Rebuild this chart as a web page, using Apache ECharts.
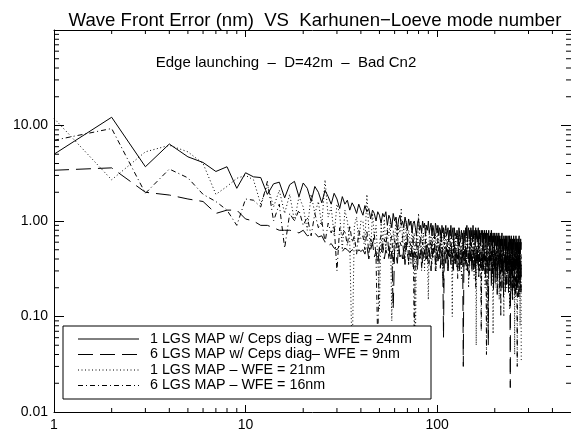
<!DOCTYPE html>
<html>
<head>
<meta charset="utf-8">
<script src="https://cdn.jsdelivr.net/npm/echarts@6/dist/echarts.min.js"></script>
<style>html,body{margin:0;padding:0;background:#fff}#c{width:571px;height:437px}</style>
</head>
<body>
<div id="c"></div>
<script>
// ---- DATA ----
const seriesNames = [
  '1 LGS MAP w/ Ceps diag – WFE = 24nm',
  '6 LGS MAP w/ Ceps diag– WFE = 9nm',
  '1 LGS MAP – WFE = 21nm',
  '6 LGS MAP – WFE = 16nm'
];
const xTickLabels = ['1', '10', '100'];
const yTickLabels = ['0.01', '0.10', '1.00', '10.00'];

// solid: 1 LGS MAP w/ Ceps diag
const wfeSolid = [
5.0,12.2,3.7,6.4,4.7,4.1,3.3,3.7,2.2,3.2,2.9,2.85,1.9,2.45,2.55,1.75,
2.4,2.6,1.8,2.5,2.2,1.6,2.3,2.0,1.55,2.1,1.8,1.5,1.95,1.7,
1.35,1.8,1.5,1.65,1.3,1.55,1.4,1.2,1.5,1.3,
1.15,1.45,1.25,1.35,1.05,1.3,1.2,1.0,1.25,1.15,0.95,1.2,1.1,1.25,0.9,1.15,1.05,0.85,1.2,1.0,1.1,0.8,1.05,1.15,0.9,
1.0,0.85,1.1,0.95,0.8,1.05,0.9,1.0,0.75,0.95,1.0,0.85,0.7,0.95,1.05,0.8,0.9,0.75,1.0,0.85,0.95,0.7,0.9,0.8,1.0,
0.75,0.85,0.95,0.7,0.9,0.8,0.65,0.95,0.85,0.75,0.9,0.7,0.85,0.8,0.6,0.9,0.75,0.85,0.65,0.8,0.9,0.7,0.75,0.85,0.6,
0.8,0.7,0.9,0.65,0.75,0.85,0.55,0.85,0.7,0.75,0.65,0.8,0.7,0.55,0.85,0.75,0.6,0.7,0.8,0.65,0.75,0.5,0.8,0.7,0.6,
0.85,0.7,0.9,0.6,0.8,0.85,0.65,0.8,0.55,0.85,0.7,0.8,0.6,0.9,0.65,0.8,0.7,0.55,0.85,0.65,0.8,0.6,0.75,0.85,0.5,
0.8,0.65,0.75,0.55,0.8,0.7,0.6,0.8,0.5,0.75,0.65,0.8,0.55,0.75,0.6,0.8,0.5,0.7,0.75,0.55,0.8,0.6,0.7,0.45,0.75,
0.6,0.8,0.55,0.7,0.5,0.75,0.6,0.7,0.45,0.75,0.55,0.7,0.6,0.5,0.75,0.55,0.7,0.45,0.6,0.75,0.5,0.7,0.55,0.65,0.4,
0.7,0.55,0.75,0.5,0.65,0.55,0.45,0.7,0.5,0.65,0.55,0.7,0.4,0.65,0.5,0.7,0.55,0.45,0.65,0.7,0.5,0.6,0.4,0.7,0.55,
0.5,0.65,0.45,0.7,0.5,0.6,0.4,0.65,0.55,0.5,0.7,0.45,0.6,0.65,0.4,0.6,0.5,0.7,0.45,0.6,0.65,0.35,0.6,0.5,0.65,
0.45,0.6,0.7,0.4,0.6,0.5,0.45,0.65,0.5,0.6
];

// long dash: 6 LGS MAP w/ Ceps diag
const wfeDashed = [
3.4,3.6,2.0,1.87,1.7,1.6,1.2,1.3,1.3,1.05,1.0,0.9,0.9,0.85,0.8,0.8,
0.8,0.78,0.75,0.8,0.7,0.72,0.75,0.68,0.7,0.6,0.55,0.58,0.52,0.5,0.55,0.48,0.52,0.5,0.47,0.5,0.49,0.46,0.5,0.48,
0.5,0.45,0.55,0.4,0.5,0.6,0.42,0.48,0.35,0.52,0.45,0.58,0.4,0.5,0.44,0.55,0.38,0.48,0.12,0.5,0.45,0.36,0.55,0.42,0.48,
0.4,0.52,0.35,0.6,0.45,0.38,0.5,0.42,0.55,0.33,0.48,0.44,0.5,0.3,0.52,0.4,0.47,0.55,0.35,0.45,0.5,0.38,0.58,0.42,0.36,
0.5,0.44,0.3,0.52,0.4,0.47,0.55,0.35,0.45,0.5,0.38,0.42,0.55,0.32,0.46,0.5,0.4,0.06,0.48,0.42,0.36,0.52,0.44,0.3,0.5,
0.42,0.47,0.35,0.55,0.4,0.45,0.3,0.5,0.38,0.46,0.52,0.33,0.44,0.4,0.5,0.28,0.46,0.42,0.36,0.5,0.4,0.03,0.45,0.38,0.48,
0.35,0.5,0.42,0.3,0.46,0.4,0.52,0.34,0.44,0.38,0.48,0.28,0.45,0.4,0.5,0.33,0.42,0.46,0.3,0.44,0.38,0.5,0.35,0.42,0.26,
0.45,0.4,0.48,0.32,0.42,0.38,0.5,0.3,0.44,0.4,0.35,0.46,0.28,0.42,0.38,0.48,0.33,0.4,0.44,0.05,0.42,0.36,0.46,0.3,0.4,
0.44,0.2,0.4,0.48,0.28,0.42,0.18,0.45,0.32,0.4,0.22,0.46,0.3,0.42,0.38,0.17,0.44,0.36,0.4,0.33,0.45,0.2,0.4,0.37,0.43,
0.3,0.4,0.2,0.45,0.28,0.38,0.16,0.32,0.4,0.36,0.44,0.18,0.4,0.35,0.42,0.22,0.38,0.44,0.28,0.4,0.17,0.42,0.3,0.38,0.2,
0.018,0.4,0.2,0.42,0.28,0.38,0.15,0.44,0.3,0.4,0.2,0.25,0.42,0.34,0.16,0.3,0.4,0.35,0.43,0.18,0.38,0.33,0.4,0.2,0.36,
0.42,0.16,0.38,0.34,0.4,0.2,0.37,0.33,0.18,0.35
];

// dotted: 1 LGS MAP
const wfeDotted = [
11.9,2.7,5.3,6.2,5.3,4.0,1.9,2.3,2.8,3.0,2.7,1.5,2.4,1.4,2.1,1.2,
1.9,1.0,1.8,1.4,0.8,1.9,1.2,1.6,0.9,2.7,1.1,1.4,0.7,1.5,1.2,0.5,1.3,1.0,0.6,0.035,0.9,1.1,0.6,1.0,
1.0,0.6,1.9,0.8,0.5,1.2,0.7,0.9,0.4,0.12,0.95,0.6,1.05,0.5,0.85,0.7,1.0,0.09,0.8,0.6,1.1,0.45,0.9,0.75,1.37,
0.6,0.85,0.4,1.0,0.55,0.8,0.7,0.35,0.9,0.6,0.75,0.037,0.8,0.5,1.2,0.65,0.4,0.85,0.55,0.75,0.3,0.9,0.6,0.45,0.15,
0.8,0.55,0.7,0.35,0.85,0.6,0.5,0.75,0.3,0.9,0.55,0.65,0.4,0.8,0.5,0.7,0.25,0.75,0.6,0.45,0.85,0.5,0.65,0.35,0.7,
0.55,0.8,0.4,0.6,0.1,0.7,0.5,0.65,0.35,0.75,0.55,0.45,0.7,0.3,0.6,0.8,0.45,0.55,0.25,0.7,0.5,0.6,0.35,0.75,0.45,
0.6,0.3,0.7,0.5,0.55,0.2,0.65,0.45,0.6,0.4,0.7,0.35,0.55,0.5,0.65,0.25,0.6,0.45,0.7,0.05,0.55,0.4,0.65,0.3,0.5,
0.6,0.35,0.7,0.45,0.15,0.55,0.5,0.65,0.3,0.6,0.4,0.55,0.2,0.65,0.45,0.5,0.35,0.6,0.08,0.5,0.55,0.3,0.6,0.45,0.4,
0.55,0.25,0.6,0.45,0.5,0.066,0.55,0.4,0.6,0.3,0.5,0.45,0.2,0.55,0.4,0.5,0.3,0.6,0.35,0.45,0.15,0.55,0.4,0.5,0.3,
0.55,0.35,0.45,0.5,0.25,0.55,0.4,0.1,0.5,0.45,0.3,0.55,0.4,0.2,0.5,0.35,0.45,0.55,0.25,0.5,0.4,0.3,0.5,0.12,0.45,
0.4,0.5,0.3,0.45,0.35,0.55,0.2,0.45,0.4,0.3,0.5,0.35,0.45,0.04,0.4,0.5,0.3,0.45,0.35,0.2,0.5,0.4,0.3,0.45,0.35,
0.45,0.25,0.4,0.5,0.3,0.08,0.45,0.35,0.4,0.035
];

// dash-dot: 6 LGS MAP
const wfeDashDot = [
7.0,9.3,1.95,3.5,2.83,1.9,1.6,1.3,0.9,1.7,1.65,1.4,2.6,1.0,1.5,0.52,
1.2,1.0,1.3,0.9,1.1,0.7,1.2,0.85,1.0,0.6,0.95,0.75,0.9,0.3,0.85,0.7,0.8,0.55,0.9,0.6,0.7,0.45,0.8,0.65,
0.7,0.5,0.8,0.45,0.65,0.55,0.75,0.4,0.05,0.6,0.7,0.45,0.65,0.55,0.8,0.4,0.6,0.7,0.35,0.65,0.5,0.75,0.45,0.6,0.55,
0.7,0.4,0.6,0.5,0.75,0.35,0.6,0.55,0.45,0.7,0.05,0.5,0.65,0.4,0.6,0.55,0.7,0.3,0.6,0.5,0.45,0.65,0.4,0.55,0.6,
0.35,0.6,0.5,0.65,0.4,0.55,0.6,0.3,0.55,0.45,0.65,0.4,0.5,0.6,0.35,0.55,0.5,0.2,0.6,0.45,0.55,0.4,0.6,0.3,0.5,
0.55,0.4,0.6,0.45,0.5,0.3,0.55,0.5,0.6,0.35,0.5,0.45,0.25,0.55,0.4,0.6,0.45,0.35,0.55,0.5,0.4,0.6,0.3,0.5,0.45,
0.55,0.35,0.5,0.6,0.4,0.45,0.25,0.55,0.5,0.4,0.6,0.35,0.5,0.45,0.3,0.55,0.4,0.5,0.2,0.55,0.45,0.35,0.5,0.4,0.55,
0.3,0.5,0.45,0.4,0.07,0.5,0.35,0.55,0.45,0.3,0.5,0.4,0.55,0.25,0.45,0.04,0.5,0.4,0.35,0.5,0.45,0.3,0.55,0.4,0.45,
0.35,0.5,0.3,0.45,0.55,0.4,0.25,0.5,0.45,0.35,0.5,0.4,0.3,0.5,0.45,0.35,0.2,0.5,0.4,0.45,0.3,0.5,0.35,0.45,0.1,
0.45,0.35,0.5,0.3,0.45,0.4,0.55,0.25,0.45,0.4,0.35,0.5,0.3,0.45,0.4,0.2,0.5,0.35,0.45,0.3,0.4,0.5,0.25,0.45,0.4,
0.35,0.45,0.18,0.5,0.4,0.25,0.45,0.15,0.5,0.3,0.4,0.45,0.2,0.45,0.35,0.4,0.16,0.5,0.35,0.4,0.25,0.03,0.4,0.2,0.45,
0.3,0.4,0.17,0.45,0.25,0.4,0.35,0.2,0.45,0.38
];

// ---- CHART ----
const FONT = '"Liberation Sans", Arial, Helvetica, sans-serif';
const X_MIN = 1, X_MAX = 500, Y_MIN = 0.01, Y_MAX = 100;
const toPairs = arr => arr.map((v, i) => [i + 1, v]);
const dashTypes = ['solid', [15, 7], [1, 2.5], [5, 3, 1, 3]];
const allData = [wfeSolid, wfeDashed, wfeDotted, wfeDashDot];

// minor tick positions (2..9 per decade)
const minorTicks = [];
for (let e = 0; e <= 2; e++) for (let m = 2; m <= 9; m++) {
  const v = m * Math.pow(10, e);
  if (v < X_MAX) { minorTicks.push([v, Y_MIN, 2]); minorTicks.push([v, Y_MAX, 3]); }
}
for (let e = -2; e <= 1; e++) for (let m = 2; m <= 9; m++) {
  const v = m * Math.pow(10, e);
  minorTicks.push([X_MIN, v, 0]); minorTicks.push([X_MAX, v, 1]);
}

const chart = echarts.init(document.getElementById('c'), null, {renderer: 'canvas'});
const axisCommon = {
  type: 'log', logBase: 10,
  axisLine: {show: true, lineStyle: {color: '#000', width: 1}},
  splitLine: {show: false},
  minorTick: {show: false}
};
const series = allData.map((arr, i) => ({
  name: seriesNames[i], type: 'line', data: toPairs(arr),
  showSymbol: false, symbol: 'none', animation: false,
  lineStyle: {color: '#000', width: 1, type: dashTypes[i]},
  xAxisIndex: 0, yAxisIndex: 0
}));
series.push({
  type: 'custom', data: minorTicks, xAxisIndex: 0, yAxisIndex: 0, silent: true,
  animation: false, clip: false,
  renderItem: function (params, api) {
    const p = api.coord([api.value(0), api.value(1)]);
    const side = api.value(2);
    let x2 = p[0], y2 = p[1];
    if (side === 0) x2 += 5; else if (side === 1) x2 -= 5;
    else if (side === 2) y2 -= 4; else y2 += 4;
    return {type: 'line', shape: {x1: p[0], y1: p[1], x2: x2, y2: y2},
      style: {stroke: '#000', lineWidth: 1}};
  }
});

const legendX = 63, legendY = 326, legendW = 368, legendH = 73;
const legendRows = [339, 354.5, 370, 385.5];
const graphics = [
  {type: 'text', x: 315, y: 21, style: {text: 'Wave Front Error (nm)  VS  Karhunen\u2212Loeve mode number',
    font: '18.6px ' + FONT, fill: '#000', textAlign: 'center', textVerticalAlign: 'middle'}},
  {type: 'text', x: 286, y: 63, style: {text: 'Edge launching  \u2013  D=42m  \u2013  Bad Cn2',
    font: '15px ' + FONT, fill: '#000', textAlign: 'center', textVerticalAlign: 'middle'}},
  {type: 'rect', shape: {x: legendX, y: legendY, width: legendW, height: legendH},
    style: {fill: '#fff', stroke: '#000', lineWidth: 1}, z: 10}
];
seriesNames.forEach((name, i) => {
  const y = legendRows[i];
  graphics.push({type: 'line', shape: {x1: 78, y1: y, x2: 139, y2: y}, z: 11,
    style: {stroke: '#000', lineWidth: 1, lineDash: dashTypes[i] === 'solid' ? null : dashTypes[i]}});
  graphics.push({type: 'text', x: 150, y: y, z: 11, style: {text: name, font: '14.3px ' + FONT,
    fill: '#000', textAlign: 'left', textVerticalAlign: 'middle'}});
});

chart.setOption({
  animation: false,
  backgroundColor: '#fff',
  grid: {left: 54, right: -5, top: 30, bottom: 25, containLabel: false},
  xAxis: [
    Object.assign({}, axisCommon, {position: 'bottom', min: X_MIN, max: X_MAX, splitNumber: 3,
      axisTick: {show: true, inside: true, length: 7, lineStyle: {color: '#000'}},
      axisLabel: {show: true, margin: 6, color: '#000', fontSize: 14, fontFamily: FONT, showMaxLabel: false,
        formatter: v => { const i = Math.round(Math.log10(v)); return (Math.abs(Math.log10(v) - i) < 1e-6 && xTickLabels[i]) ? xTickLabels[i] : ''; }}}),
    Object.assign({}, axisCommon, {position: 'top', min: X_MIN, max: X_MAX, splitNumber: 3,
      axisTick: {show: true, inside: true, length: 7, lineStyle: {color: '#000'}},
      axisLabel: {show: false}})
  ],
  yAxis: [
    Object.assign({}, axisCommon, {position: 'left', min: Y_MIN, max: Y_MAX, splitNumber: 4,
      axisTick: {show: true, inside: true, length: 10, lineStyle: {color: '#000'}},
      axisLabel: {show: true, margin: 6, color: '#000', fontSize: 14, fontFamily: FONT, showMaxLabel: false,
        formatter: v => { const i = Math.round(Math.log10(v)) + 2; return yTickLabels[i] || ''; }}}),
    Object.assign({}, axisCommon, {position: 'right', min: Y_MIN, max: Y_MAX, splitNumber: 4,
      axisTick: {show: true, inside: true, length: 10, lineStyle: {color: '#000'}},
      axisLabel: {show: false}})
  ],
  series: series,
  graphic: graphics
});
</script>
</body>
</html>
